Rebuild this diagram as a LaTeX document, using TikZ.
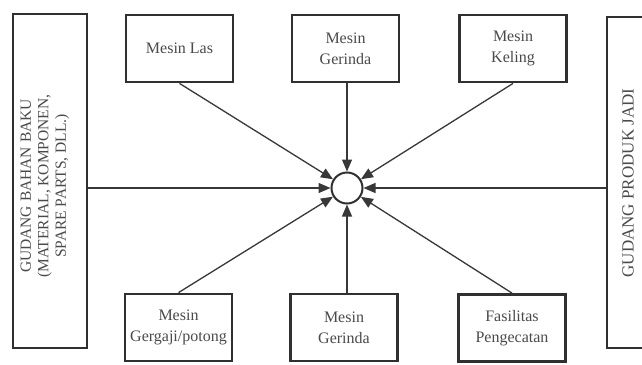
\documentclass[tikz,border=0pt]{standalone}
\usepackage{fontspec}
\setmainfont{Liberation Serif}
\usetikzlibrary{arrows.meta}
\definecolor{boxline}{HTML}{303030}
\definecolor{linecol}{HTML}{383838}
\definecolor{txt}{HTML}{4A4A4A}
\begin{document}
\begin{tikzpicture}[x=1pt,y=-1pt,
  machine/.style={draw=boxline, line width=2.8pt, minimum width=107pt,
    minimum height=67pt, align=center, text=txt, inner sep=0pt,
    font=\fontsize{16}{21}\selectfont},
  store/.style={draw=boxline, line width=2.8pt, inner sep=0pt},
  storelabel/.style={rotate=90, align=center, text=txt, inner sep=0pt},
  hubstyle/.style={circle, draw=boxline, line width=2pt, fill=white,
    minimum size=31pt, inner sep=0pt},
  flow/.style={draw=linecol, line width=1.3pt,
    -{Triangle[length=12pt,width=10pt]}}]
\useasboundingbox[fill=white] (0,0) rectangle (642,364);

% warehouses on both sides
\node[store, minimum width=74pt, minimum height=334pt] (raw) at (50,181) {};
\node[storelabel, font=\fontsize{15.5}{17.5}\selectfont] (rawtext) at (45,186)
  {GUDANG BAHAN BAKU\\(MATERIAL, KOMPONEN,\\SPARE PARTS, DLL.)};
\node[store, minimum width=53pt, minimum height=331pt] (fin) at (633.5,182.5) {};
\node[storelabel, font=\fontsize{17}{18}\selectfont] (fintext) at (628,183)
  {GUDANG PRODUK JADI};

% central work point
\node[hubstyle] (hub) at (347,188) {};

% machines above
\node[machine] (las) at (179.5,48.5) {Mesin Las};
\node[machine] (grtop) at (345.5,48.5) {Mesin\\Gerinda};
\node[machine] (keling) at (513,48.5) {Mesin\\Keling};

% machines below
\node[machine] (gergaji) at (178.5,327.5) {Mesin\\Gergaji/potong};
\node[machine] (grbot) at (344,327.5) {Mesin\\Gerinda};
\node[machine] (cat) at (512,328) {Fasilitas\\Pengecatan};

% flows into the work point
\draw[flow] (raw.east |- hub) -- (hub);
\draw[flow] (fin.west |- hub) -- (hub);
\draw[flow] (las.south) -- (hub);
\draw[flow] (grtop.south -| hub) -- (hub);
\draw[flow] (keling.south) -- (hub);
\draw[flow] (gergaji.north) -- (hub);
\draw[flow] (grbot.north -| hub) -- (hub);
\draw[flow] (cat.north) -- (hub);
\end{tikzpicture}
\end{document}
